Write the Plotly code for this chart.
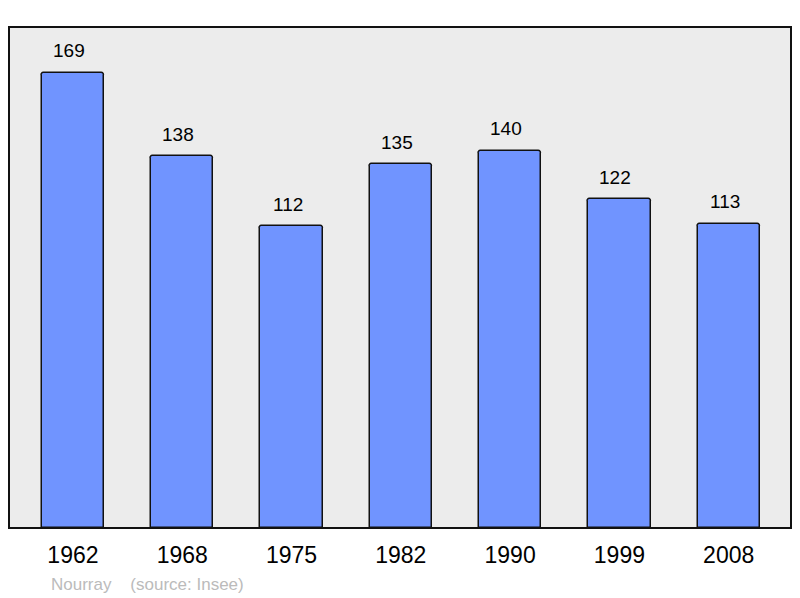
import plotly.graph_objects as go

years = ["1962", "1968", "1975", "1982", "1990", "1999", "2008"]
population = [169, 138, 112, 135, 140, 122, 113]

fig = go.Figure()
fig.add_trace(go.Bar(
    x=list(range(len(years))), y=population,
    width=0.57,
    marker=dict(color="#7094ff", line=dict(color="#111111", width=1.5), cornerradius=3),
    hoverinfo="skip",
))

# value labels above bars (slightly left of centre, like the original)
for i, v in enumerate(population):
    fig.add_annotation(x=i, y=v, text=str(v), showarrow=False,
                       yanchor="middle", yshift=22, xshift=-4,
                       font=dict(size=19, color="black"))

# page body has an 8px margin, so the figure is shifted by 8px
fig.update_layout(
    width=784, height=590,
    margin=dict(l=1, r=1, t=19, b=70),
    paper_bgcolor="white", plot_bgcolor="#ececec",
    font=dict(family="Liberation Sans, Arial", color="black"),
    showlegend=False, bargap=0,
)
fig.update_xaxes(
    range=[-0.585, 6.57], tickvals=list(range(len(years))), ticktext=years,
    tickfont=dict(size=23), ticks="", showgrid=False, zeroline=False,
    ticklabelstandoff=11,
)
fig.update_yaxes(range=[0, 186], visible=False, showgrid=False)

fig.add_shape(type="rect", xref="paper", yref="paper", x0=0, x1=1, y0=0, y1=1,
              line=dict(color="#111111", width=2), layer="above")

fig.add_annotation(text="Nourray    (source: Insee)", xref="paper", yref="paper",
                   x=(49 - 9) / 782, y=-(584 - 528) / 501, xanchor="left", yanchor="middle",
                   showarrow=False, font=dict(size=17, color="#bbbbbb"))

fig.write_html("out.html")
